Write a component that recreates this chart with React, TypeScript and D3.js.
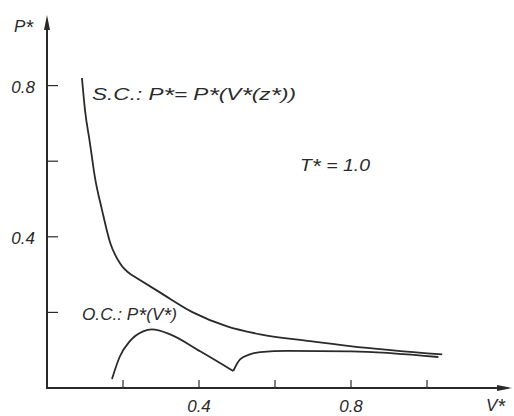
import React from "react";
import * as d3 from "d3";

// S.C. curve, steep branch and flat branch (kink at V* ~ 0.22)
const scSteepV = [0.092, 0.1, 0.113, 0.126, 0.145, 0.166, 0.192, 0.221];
const scSteepP = [0.82, 0.735, 0.648, 0.558, 0.47, 0.385, 0.33, 0.3];
const scFlatV = [0.221, 0.297, 0.384, 0.474, 0.561, 0.692, 0.797, 1.04];
const scFlatP = [0.3, 0.253, 0.2, 0.163, 0.142, 0.124, 0.111, 0.089];

// O.C. curve, left hump and right branch (cusp at V* ~ 0.49)
const ocLeftV = [0.171, 0.192, 0.218, 0.253, 0.276, 0.324, 0.403, 0.49];
const ocLeftP = [0.024, 0.084, 0.124, 0.15, 0.155, 0.142, 0.097, 0.045];
const ocRightV = [0.49, 0.508, 0.534, 0.561, 0.632, 0.8, 1.03];
const ocRightP = [0.045, 0.076, 0.089, 0.095, 0.098, 0.097, 0.082];

const xTicks = [0.2, 0.4, 0.6, 0.8, 1.0];
const xTickLabels = [0.4, 0.8];
const yTicks = [0.2, 0.4, 0.6, 0.8];
const yTickLabels = [0.4, 0.8];

const W = 514;
const H = 416;
const ink = "#2a2a2a";
const font = "'Liberation Sans', Arial, sans-serif";

const x = d3.scaleLinear().domain([0, 1.2]).range([47, 47 + 456]);
const y = d3.scaleLinear().domain([0, 0.9]).range([388, 388 - 340.2]);

const zip = (vs: number[], ps: number[]) => vs.map((v, i) => [v, ps[i]] as [number, number]);

const line = d3
  .line<[number, number]>()
  .x((d) => x(d[0]))
  .y((d) => y(d[1]))
  .curve(d3.curveMonotoneX);

// asterisks a bit bigger, like the drawn superscript stars
const starred = (s: string) => {
  const parts = s.split(/(\*)/);
  return parts.map((part, i) =>
    part === "*" ? (
      <tspan key={i} fontSize={20} dy={2}>
        *
      </tspan>
    ) : (
      <tspan key={i} dy={i > 0 && parts[i - 1] === "*" ? -2 : 0}>
        {part}
      </tspan>
    )
  );
};

const App = () => {
  const x0 = x(0);
  const y0 = y(0);
  const curves = [
    zip(scSteepV, scSteepP),
    zip(scFlatV, scFlatP),
    zip(ocLeftV, ocLeftP),
    zip(ocRightV, ocRightP),
  ];
  const labelStyle = { fontFamily: font, fontStyle: "italic", fontSize: 17, fill: ink };

  return (
    <svg
      width={W}
      height={H}
      style={{ position: "absolute", left: 0, top: 0, background: "#fff" }}
    >
      {/* axes */}
      <line x1={x0} y1={y0} x2={x0} y2={26} stroke={ink} strokeWidth={2} />
      <path d={`M${x0},15 L${x0 - 3},30 L${x0 + 3},30 Z`} fill={ink} />
      <line x1={x0 - 1} y1={y0} x2={500} y2={y0} stroke={ink} strokeWidth={2} />
      <path d={`M512,${y0} L497,${y0 - 3} L497,${y0 + 3} Z`} fill={ink} />

      {/* ticks */}
      {xTicks.map((t) => (
        <line key={"xt" + t} x1={x(t)} x2={x(t)} y1={y0} y2={y0 - 8} stroke={ink} strokeWidth={1.2} />
      ))}
      {yTicks.map((t) => (
        <line key={"yt" + t} x1={x0} x2={x0 + 11} y1={y(t)} y2={y(t)} stroke={ink} strokeWidth={1.2} />
      ))}
      {xTickLabels.map((t) => (
        <text key={"xl" + t} x={x(t)} y={412} textAnchor="middle" style={labelStyle}>
          {t.toFixed(1)}
        </text>
      ))}
      {yTickLabels.map((t) => (
        <text key={"yl" + t} x={35} y={y(t) + 7} textAnchor="end" style={labelStyle}>
          {t.toFixed(1)}
        </text>
      ))}

      {/* axis titles */}
      <text x={14} y={32} style={labelStyle}>{starred("P*")}</text>
      <text x={486} y={411} style={labelStyle}>{starred("V*")}</text>

      {/* curves */}
      {curves.map((c, i) => (
        <path key={i} d={line(c) || ""} fill="none" stroke={ink} strokeWidth={1.8} />
      ))}

      {/* annotations */}
      <text x={92} y={100} textLength={204} lengthAdjust="spacingAndGlyphs" style={labelStyle}>
        {starred("S.C.: P*= P*(V*(z*))")}
      </text>
      <text x={300} y={171} textLength={70} lengthAdjust="spacingAndGlyphs" style={labelStyle}>
        {starred("T* = 1.0")}
      </text>
      <text x={82} y={320} textLength={95} lengthAdjust="spacingAndGlyphs" style={labelStyle}>
        {starred("O.C.: P*(V*)")}
      </text>
    </svg>
  );
};

export default App;
